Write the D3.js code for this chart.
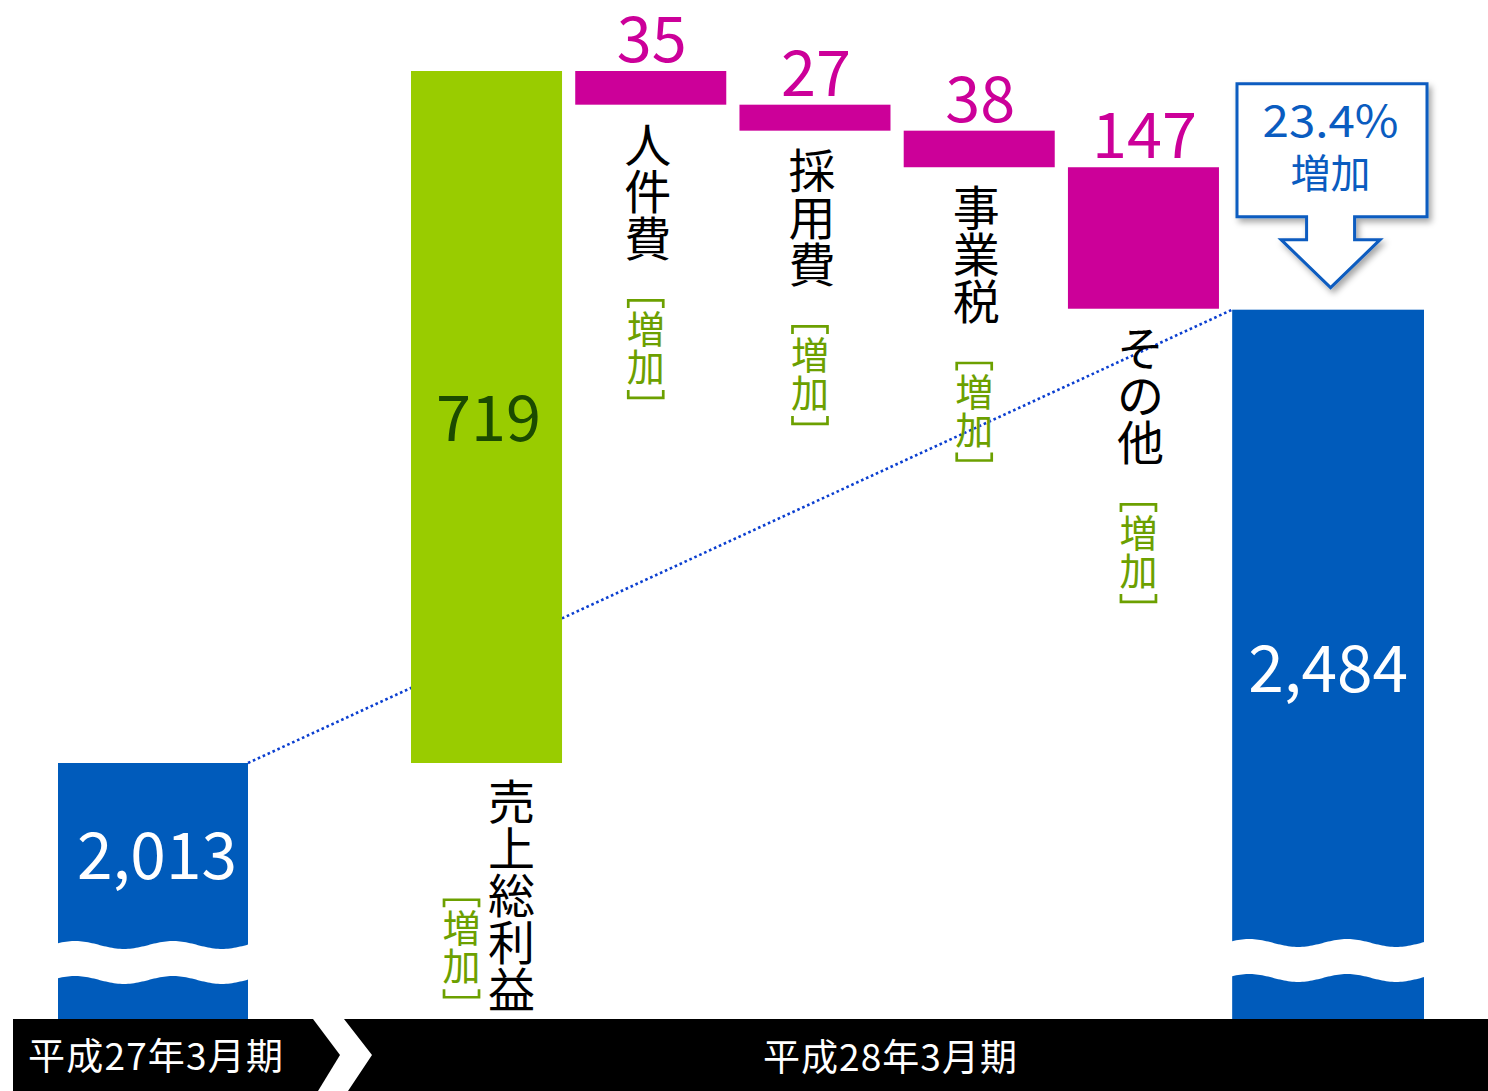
<!DOCTYPE html>
<html><head><meta charset="utf-8">
<script src="https://cdn.jsdelivr.net/npm/d3@7"></script>
<style>html,body{margin:0;padding:0;background:#fff;} svg{display:block;}</style>
</head><body><svg id="chart" width="1488" height="1091"></svg>
<script>
// ---------------- data ----------------
const periodLabels = ["平成27年3月期", "平成28年3月期"];
const startValue = 2013;
const endValue = 2484;
const deltaCategories = ["売上総利益", "人件費", "採用費", "事業税", "その他"];
const deltaValues = [719, -35, -27, -38, -147];
const changeWord = "増加";
const growthRate = "23.4%";

// ---------------- style / layout ----------------
const BLUE = "#005BBB", GREEN = "#99CC00", MAGENTA = "#CC0099",
      DKGREEN = "#1B4A00", BRGREEN = "#6CA000", DOT = "#0B3FD0";
const FONT = '"Noto Sans CJK JP", "Noto Sans CJK SC", sans-serif';
const svg = d3.select("#chart");

let run = startValue;
const steps = deltaCategories.map((c, i) => {
  const from = run; run += deltaValues[i];
  return {cat: c, value: deltaValues[i], from, to: run};
});
const peak = d3.max(steps, d => Math.max(d.from, d.to));
const y = d3.scaleLinear().domain([startValue, peak]).range([763, 71]);
const baseY = 1020;

const xStart = d3.scaleBand().domain([periodLabels[0]]).range([58, 248]);
const xMain = d3.scaleBand().domain([...deltaCategories, periodLabels[1]])
  .range([411, 1383.2]).paddingInner(0.0804).paddingOuter(0);
const endX = xMain(periodLabels[1]);
const endW = 1424 - endX;

// defs
const defs = svg.append("defs");
const f = defs.append("filter").attr("id", "shadow").attr("x", "-20%").attr("y", "-20%").attr("width", "150%").attr("height", "150%");
f.append("feDropShadow").attr("dx", 3).attr("dy", 4).attr("stdDeviation", 3)
  .attr("flood-color", "#000").attr("flood-opacity", 0.35);

// dotted connector line
svg.append("line")
  .attr("x1", xStart(periodLabels[0]) + xStart.bandwidth()).attr("y1", y(startValue))
  .attr("x2", endX).attr("y2", y(endValue))
  .attr("stroke", DOT).attr("stroke-width", 2.6)
  .attr("stroke-dasharray", "2.6 2.8");

// total bars
svg.append("rect")
  .attr("x", xStart(periodLabels[0])).attr("width", xStart.bandwidth())
  .attr("y", y(startValue)).attr("height", baseY - y(startValue)).attr("fill", BLUE);
svg.append("rect")
  .attr("x", endX).attr("width", endW)
  .attr("y", y(endValue)).attr("height", baseY - y(endValue)).attr("fill", BLUE);

// delta bars
svg.selectAll("rect.delta").data(steps).join("rect").attr("class", "delta")
  .attr("x", d => xMain(d.cat)).attr("width", xMain.bandwidth())
  .attr("y", d => y(Math.max(d.from, d.to)))
  .attr("height", d => Math.abs(y(d.from) - y(d.to)))
  .attr("fill", d => d.value > 0 ? GREEN : MAGENTA);

// wave breaks
function wavePath(x0, x1, mid) {
  const top = [], bot = [];
  for (let x = x0 - 2; x <= x1 + 2; x += 2) {
    const w = 4 * Math.sin(2 * Math.PI * (x - x0 - 17) / 98 - Math.PI / 2);
    top.push([x, mid + w]);
    bot.push([x, mid + 35 + w]);
  }
  return "M" + top.map(p => p.join(",")).join("L") + "L" + bot.reverse().map(p => p.join(",")).join("L") + "Z";
}
svg.append("path").attr("d", wavePath(xStart(periodLabels[0]), xStart(periodLabels[0]) + xStart.bandwidth(), baseY - 75)).attr("fill", "#fff");
svg.append("path").attr("d", wavePath(endX, endX + endW, baseY - 77)).attr("fill", "#fff");

// black period band
const bandTop = 1019, bandBot = 1091, bandMid = (bandTop + bandBot) / 2;
svg.append("path").attr("fill", "#000")
  .attr("d", `M13,${bandTop}H313L340,${bandMid}L318,${bandBot}H13Z`);
svg.append("path").attr("fill", "#000")
  .attr("d", `M344,${bandTop}H1488V${bandBot}H348L372,${bandMid}Z`);
svg.append("text").text(periodLabels[0]).attr("x", 28).attr("y", bandMid + 15)
  .attr("font-family", FONT).attr("font-size", 37).attr("fill", "#fff")
  .attr("textLength", 255).attr("lengthAdjust", "spacing");
svg.append("text").text(periodLabels[1]).attr("x", 763).attr("y", bandMid + 16)
  .attr("font-family", FONT).attr("font-size", 37).attr("fill", "#fff")
  .attr("textLength", 254).attr("lengthAdjust", "spacing");

// value labels
const fmt = d3.format(",");
svg.append("text").text(fmt(startValue))
  .attr("x", xStart(periodLabels[0]) + xStart.bandwidth() / 2 + 4).attr("y", y(startValue) + 116)
  .attr("text-anchor", "middle").attr("font-family", FONT).attr("font-size", 64).attr("fill", "#fff");
svg.append("text").text(fmt(endValue))
  .attr("x", endX + endW / 2).attr("y", y(endValue) + 382)
  .attr("text-anchor", "middle").attr("font-family", FONT).attr("font-size", 64).attr("fill", "#fff");

steps.forEach(d => {
  const cx = xMain(d.cat) + xMain.bandwidth() / 2;
  const t = svg.append("text").text(fmt(Math.abs(d.value)))
    .attr("text-anchor", "middle").attr("font-family", FONT).attr("font-size", 63);
  if (d.value > 0) {
    t.attr("x", cx + 2).attr("y", (y(d.from) + y(d.to)) / 2 + 24).attr("fill", DKGREEN);
  } else {
    t.attr("x", cx + 1).attr("y", y(d.from) - 9).attr("fill", MAGENTA);
  }
});

// vertical labels: one glyph per line
function verticalText(str, cx, top, fs, step, color) {
  const chars = Array.from(str);
  chars.forEach((ch, i) => {
    svg.append("text").text(ch).attr("x", cx).attr("y", top + 0.82 * fs + i * step)
      .attr("text-anchor", "middle").attr("font-family", FONT).attr("font-size", fs).attr("fill", color);
  });
  return top + (chars.length - 1) * step + 0.92 * fs;
}
function bracket(cx, top) {
  const hw = 17.5;
  svg.append("path").attr("d", `M${cx - hw},${top + 9}V${top + 1.5}H${cx + hw}V${top + 9}`)
    .attr("fill", "none").attr("stroke", BRGREEN).attr("stroke-width", 2.7);
  svg.append("path").attr("d", `M${cx - hw},${top + 91}V${top + 99}H${cx + hw}V${top + 91}`)
    .attr("fill", "none").attr("stroke", BRGREEN).attr("stroke-width", 2.7);
  verticalText(changeWord, cx, top + 13, 38, 38, BRGREEN);
}
const VFS = 47, VSTEP = 47;
steps.forEach(d => {
  const cx = xMain(d.cat) + xMain.bandwidth() / 2;
  const bottom = y(Math.min(d.from, d.to));
  if (d.value > 0) {
    const top = bottom + 17;
    const end = verticalText(d.cat, cx + 25, top, VFS, VSTEP, "#000");
    bracket(cx - 25, end - 113);
  } else {
    const top = bottom + 19;
    const end = verticalText(d.cat, cx - 3, top, VFS, VSTEP, "#000");
    bracket(cx - 5, end + 38);
  }
});

// callout arrow
const tipY = y(endValue) - 22;
const cx0 = endX + endW / 2 + 2.5;
const bx0 = 1237, bx1 = 1427;
const bTop = tipY - 204, bBot = tipY - 71, headY = tipY - 48;
svg.append("path")
  .attr("d", `M${bx0},${bTop}H${bx1}V${bBot}H${cx0 + 24}V${headY}H${cx0 + 49.5}L${cx0},${tipY}L${cx0 - 49.5},${headY}H${cx0 - 24}V${bBot}H${bx0}Z`)
  .attr("fill", "#fff").attr("stroke", "#0A5CC0").attr("stroke-width", 3)
  .attr("stroke-linejoin", "miter").attr("filter", "url(#shadow)");
svg.append("text").text(growthRate).attr("x", cx0).attr("y", bTop + 53)
  .attr("text-anchor", "middle").attr("font-family", FONT).attr("font-size", 44).attr("fill", "#0A5CC0")
  .attr("textLength", 136).attr("lengthAdjust", "spacingAndGlyphs");
svg.append("text").text(changeWord).attr("x", cx0).attr("y", bTop + 104)
  .attr("text-anchor", "middle").attr("font-family", FONT).attr("font-size", 40).attr("fill", "#0A5CC0");
</script></body></html>
